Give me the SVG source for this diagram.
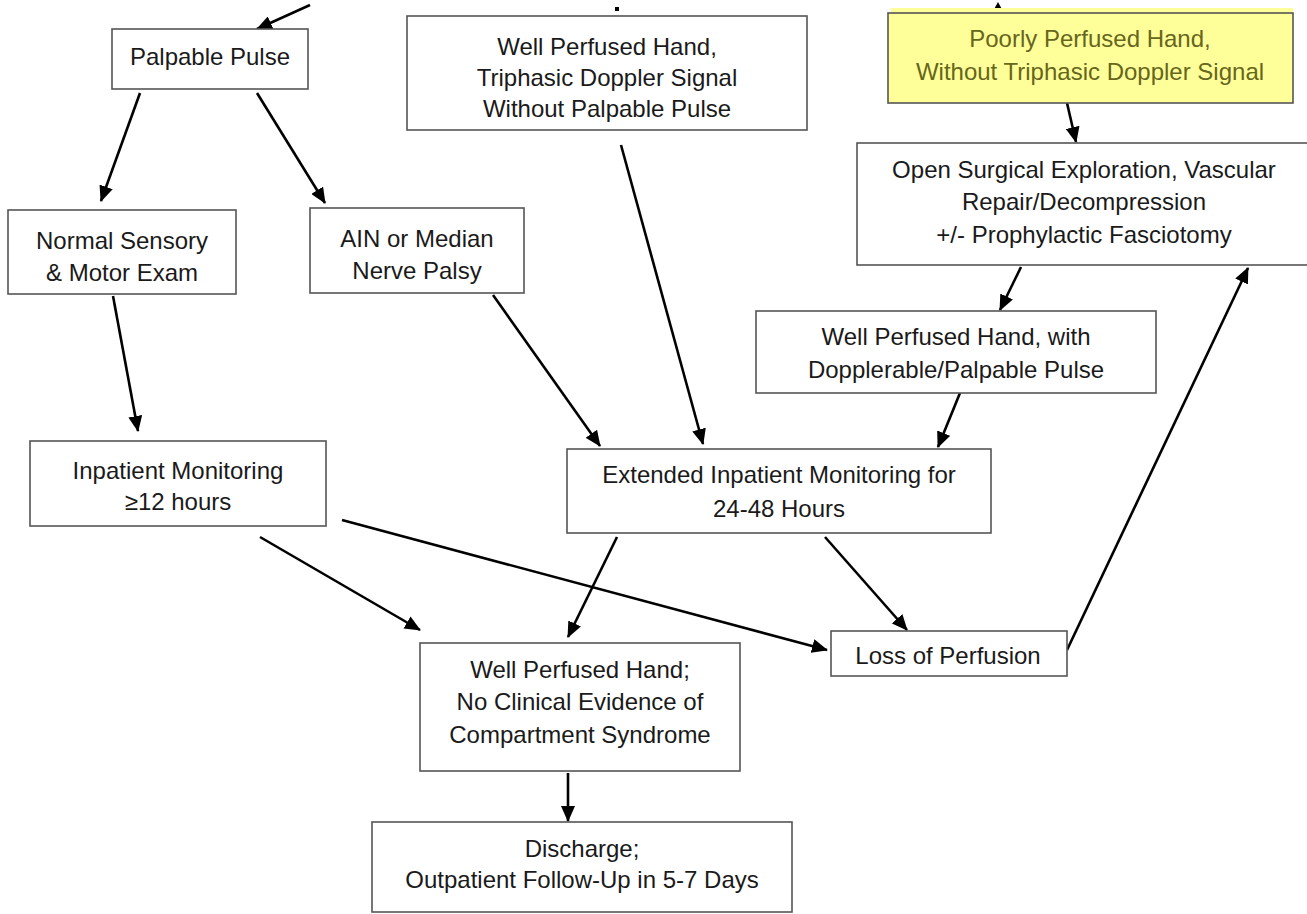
<svg xmlns="http://www.w3.org/2000/svg" width="1307" height="914" viewBox="0 0 1307 914">
<defs>
<marker id="ah" markerUnits="userSpaceOnUse" markerWidth="16" markerHeight="14" viewBox="0 0 16 14" refX="15" refY="7" orient="auto">
<path d="M0,0 L16,7 L0,14 Z" fill="#000"/>
</marker>
<style>
.box{fill:#fff;stroke:#555;stroke-width:1.6}
.yel{fill:#ffff99;stroke:#555;stroke-width:1.6}
.t{font-family:"Liberation Sans",Arial,sans-serif;font-size:24px;fill:#1a1a1a;text-anchor:middle}
.ty{fill:#66661c}
.c{stroke:#000;stroke-width:2.6;fill:none;marker-end:url(#ah)}
</style>
</defs>
<rect width="1307" height="914" fill="#fff"/>
<g id="connectors">
<line class="c" x1="310" y1="5" x2="257" y2="29"/>
<line class="c" x1="140" y1="93" x2="101" y2="201"/>
<line class="c" x1="257" y1="93" x2="325" y2="203"/>
<line class="c" x1="113" y1="296" x2="138" y2="431"/>
<line class="c" x1="493" y1="295" x2="600" y2="446"/>
<line class="c" x1="621" y1="145" x2="703" y2="444"/>
<line class="c" x1="1067" y1="103" x2="1076" y2="142"/>
<line class="c" x1="1021" y1="267" x2="1000" y2="310"/>
<line class="c" x1="960" y1="393" x2="938" y2="447"/>
<line class="c" x1="260" y1="537" x2="420" y2="630"/>
<line class="c" x1="342" y1="520" x2="827" y2="650"/>
<line class="c" x1="617" y1="537" x2="568" y2="637"/>
<line class="c" x1="825" y1="537" x2="907" y2="630"/>
<line class="c" x1="1067" y1="650" x2="1248" y2="268"/>
<line class="c" x1="568" y1="773" x2="568" y2="821"/>
<rect x="615" y="7" width="4" height="4" fill="#000"/>
<path d="M992,13 L998,2 L1004,13 Z" fill="#000"/>
</g>
<g id="palpable-pulse">
<rect class="box" x="112" y="29" width="196" height="60"/>
<text class="t" x="210" y="65">Palpable Pulse</text>
</g>
<g id="triphasic">
<rect class="box" x="407" y="16" width="400" height="114"/>
<text class="t" x="607" y="55">Well Perfused Hand,</text>
<text class="t" x="607" y="86">Triphasic Doppler Signal</text>
<text class="t" x="607" y="117">Without Palpable Pulse</text>
</g>
<g id="poorly-perfused">
<rect x="891" y="8" width="402" height="8" fill="#ffff99"/>
<rect class="yel" x="888" y="13" width="405" height="90"/>
<text class="t ty" x="1090" y="47">Poorly Perfused Hand,</text>
<text class="t ty" x="1090" y="80">Without Triphasic Doppler Signal</text>
</g>
<g id="open-surgical">
<rect class="box" x="857" y="143" width="455" height="122"/>
<text class="t" x="1084" y="178">Open Surgical Exploration, Vascular</text>
<text class="t" x="1084" y="210">Repair/Decompression</text>
<text class="t" x="1084" y="243">+/- Prophylactic Fasciotomy</text>
</g>
<g id="normal-exam">
<rect class="box" x="8" y="210" width="228" height="84"/>
<text class="t" x="122" y="249">Normal Sensory</text>
<text class="t" x="122" y="281">&amp; Motor Exam</text>
</g>
<g id="ain-palsy">
<rect class="box" x="310" y="208" width="214" height="85"/>
<text class="t" x="417" y="247">AIN or Median</text>
<text class="t" x="417" y="279">Nerve Palsy</text>
</g>
<g id="dopplerable">
<rect class="box" x="756" y="311" width="400" height="82"/>
<text class="t" x="956" y="345">Well Perfused Hand, with</text>
<text class="t" x="956" y="378">Dopplerable/Palpable Pulse</text>
</g>
<g id="inpatient">
<rect class="box" x="30" y="441" width="296" height="85"/>
<text class="t" x="178" y="479">Inpatient Monitoring</text>
<text class="t" x="178" y="510">≥12 hours</text>
</g>
<g id="extended">
<rect class="box" x="567" y="449" width="424" height="84"/>
<text class="t" x="779" y="483">Extended Inpatient Monitoring for</text>
<text class="t" x="779" y="517">24-48 Hours</text>
</g>
<g id="loss-perfusion">
<rect class="box" x="831" y="631" width="236" height="45"/>
<text class="t" x="948" y="664">Loss of Perfusion</text>
</g>
<g id="well-perfused-no-cs">
<rect class="box" x="420" y="643" width="320" height="128"/>
<text class="t" x="580" y="678">Well Perfused Hand;</text>
<text class="t" x="580" y="710">No Clinical Evidence of</text>
<text class="t" x="580" y="743">Compartment Syndrome</text>
</g>
<g id="discharge">
<rect class="box" x="372" y="822" width="420" height="90"/>
<text class="t" x="582" y="857">Discharge;</text>
<text class="t" x="582" y="888">Outpatient Follow-Up in 5-7 Days</text>
</g>
</svg>
